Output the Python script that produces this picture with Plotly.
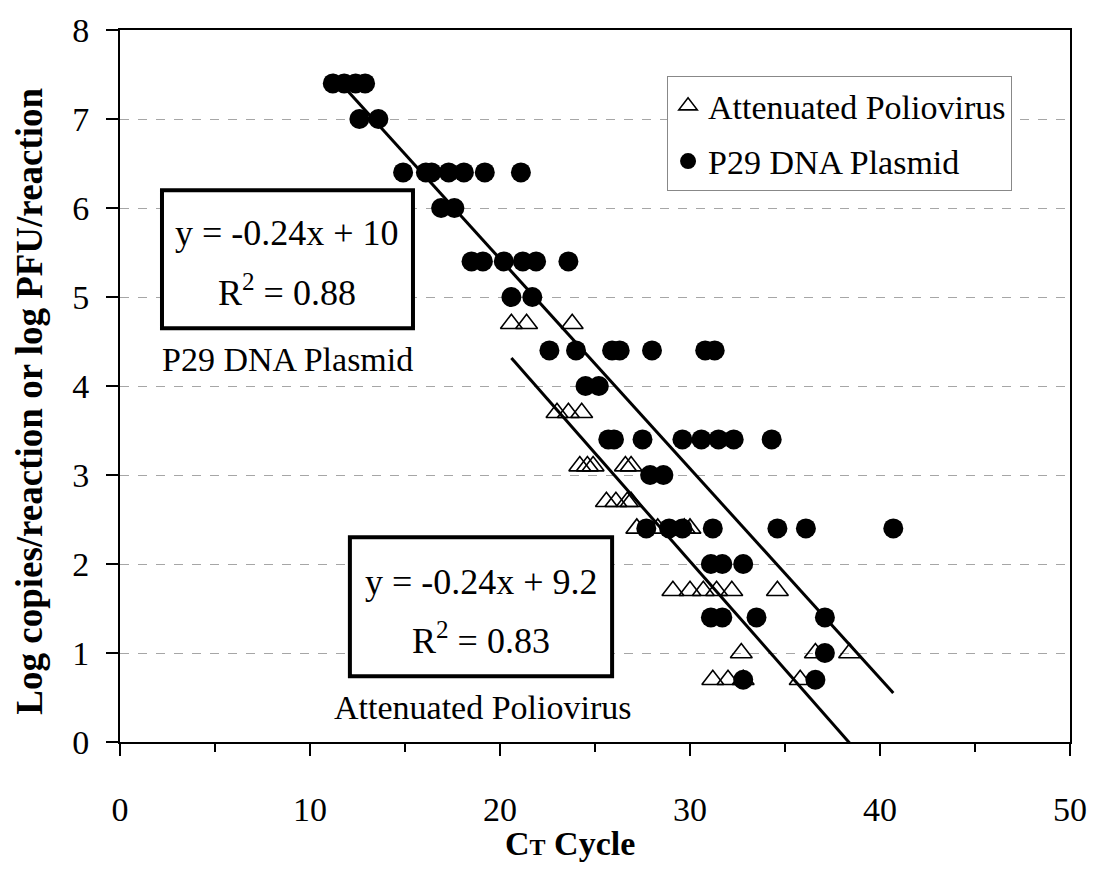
import plotly.graph_objects as go

# ---------------- data ----------------
# Attenuated Poliovirus: Ct cycle vs log PFU/reaction
polio_ct = [20.6, 21.4, 23.8,
            23.0, 23.6, 24.3,
            24.2, 24.6, 24.9, 26.6, 26.9,
            25.6, 26.1, 26.7, 26.9,
            27.2, 28.3, 29.7, 30.0,
            29.1, 30.0, 30.7, 31.4, 32.2, 34.6,
            32.7, 36.6, 38.4,
            31.2, 32.0, 32.8, 35.8]
polio_log = [4.7, 4.7, 4.7,
             3.7, 3.7, 3.7,
             3.1, 3.1, 3.1, 3.1, 3.1,
             2.7, 2.7, 2.7, 2.7,
             2.4, 2.4, 2.4, 2.4,
             1.7, 1.7, 1.7, 1.7, 1.7, 1.7,
             1.0, 1.0, 1.0,
             0.7, 0.7, 0.7, 0.7]

# P29 DNA Plasmid: Ct cycle vs log copies/reaction
plasmid_ct = [11.2, 11.8, 12.4, 12.9,
              12.6, 13.6,
              14.9, 16.1, 16.4, 17.3, 18.1, 19.2, 21.1,
              16.9, 17.6,
              18.5, 19.1, 20.2, 21.2, 21.9, 23.6,
              20.6, 21.7,
              22.6, 24.0, 25.9, 26.3, 28.0, 30.8, 31.3,
              24.5, 25.2,
              25.7, 26.0, 27.5, 29.6, 30.6, 31.5, 32.3, 34.3,
              27.9, 28.6,
              27.7, 28.9, 29.6, 31.2, 34.6, 36.1, 40.7,
              31.1, 31.7, 32.8,
              31.1, 31.7, 33.5, 37.1,
              37.1,
              32.8, 36.6]
plasmid_log = [7.4, 7.4, 7.4, 7.4,
               7.0, 7.0,
               6.4, 6.4, 6.4, 6.4, 6.4, 6.4, 6.4,
               6.0, 6.0,
               5.4, 5.4, 5.4, 5.4, 5.4, 5.4,
               5.0, 5.0,
               4.4, 4.4, 4.4, 4.4, 4.4, 4.4, 4.4,
               4.0, 4.0,
               3.4, 3.4, 3.4, 3.4, 3.4, 3.4, 3.4, 3.4,
               3.0, 3.0,
               2.4, 2.4, 2.4, 2.4, 2.4, 2.4, 2.4,
               2.0, 2.0, 2.0,
               1.4, 1.4, 1.4, 1.4,
               1.0,
               0.7, 0.7]

# linear trendlines (as drawn)
plasmid_slope, plasmid_intercept = -0.2356, 10.14
polio_slope, polio_intercept = -0.243, 9.32

plasmid_eq = ["y = -0.24x + 10", "R<sup>2</sup> = 0.88"]
polio_eq = ["y = -0.24x + 9.2", "R<sup>2</sup> = 0.83"]

x_ticks = [0, 10, 20, 30, 40, 50]
y_ticks = [0, 1, 2, 3, 4, 5, 6, 7, 8]

FONT = "Liberation Serif"
FS = 34

fig = go.Figure()

fig.add_trace(go.Scatter(
    x=polio_ct, y=polio_log, mode="markers", name="Attenuated Poliovirus",
    legendgroup="a",
    marker=dict(symbol="triangle-up-open", size=19, color="black",
                line=dict(width=1.6, color="black")),
))
fig.add_trace(go.Scatter(
    x=plasmid_ct, y=plasmid_log, mode="markers", name="P29 DNA Plasmid",
    legendgroup="b",
    marker=dict(symbol="circle", size=20, color="black"),
))

# trendlines
px0, px1 = min(plasmid_ct), max(plasmid_ct)
fig.add_trace(go.Scatter(
    x=[px0, px1], y=[plasmid_slope * px0 + plasmid_intercept, plasmid_slope * px1 + plasmid_intercept],
    mode="lines", line=dict(color="black", width=3), showlegend=False, hoverinfo="skip"))
qx0, qx1 = min(polio_ct), max(polio_ct)
fig.add_trace(go.Scatter(
    x=[qx0, qx1], y=[polio_slope * qx0 + polio_intercept, polio_slope * qx1 + polio_intercept],
    mode="lines", line=dict(color="black", width=3), showlegend=False, hoverinfo="skip"))

# equation boxes
fig.add_shape(type="rect", x0=2.21, x1=15.42, y0=4.65, y1=6.20,
              line=dict(color="black", width=4), fillcolor="white", layer="above")
fig.add_shape(type="rect", x0=12.1, x1=25.9, y0=0.74, y1=2.30,
              line=dict(color="black", width=4), fillcolor="white", layer="above")

ann = []
def txt(x, y, s, size=FS):
    ann.append(dict(x=x, y=y, xref="x", yref="y", text=s, showarrow=False,
                    font=dict(family=FONT, size=size, color="black"),
                    xanchor="center", yanchor="middle"))

txt(8.8, 5.72, plasmid_eq[0], 36)
txt(8.8, 5.07, plasmid_eq[1], 36)
txt(8.8, 4.30, "P29 DNA Plasmid")
txt(19.0, 1.80, polio_eq[0], 36)
txt(19.0, 1.16, polio_eq[1], 36)
txt(19.1, 0.39, "Attenuated Poliovirus")

# axis titles
ann.append(dict(x=0.474, y=-0.143, xref="paper", yref="paper",
                text="<b>C<span style='font-size:24px'>T</span> Cycle</b>",
                showarrow=False, font=dict(family=FONT, size=34, color="black"),
                xanchor="center", yanchor="middle"))
ann.append(dict(x=-0.0947, y=0.478, xref="paper", yref="paper",
                text="<b>Log copies/reaction or log PFU/reaction</b>", textangle=-90,
                showarrow=False, font=dict(family=FONT, size=37, color="black"),
                xanchor="center", yanchor="middle"))

fig.update_layout(
    width=1099, height=892,
    margin=dict(l=120, r=29, t=21, b=150),
    paper_bgcolor="white", plot_bgcolor="white",
    font=dict(family=FONT, size=FS, color="black"),
    annotations=ann,
    showlegend=True,
    legend=dict(x=0.939, y=0.935, xanchor="right", yanchor="top",
                bgcolor="white", bordercolor="#888888", borderwidth=1,
                font=dict(family=FONT, size=FS, color="black"),
                tracegroupgap=8, itemwidth=30),
)
fig.update_xaxes(
    range=[0, 50], tickvals=x_ticks, ticktext=[str(v) for v in x_ticks],
    showgrid=False, zeroline=False,
    showline=True, linecolor="black", linewidth=2, mirror=True,
    ticks="outside", ticklen=12, tickwidth=1.5, tickcolor="black",
    minor=dict(ticks="outside", ticklen=8, dtick=5, tickcolor="black", tickwidth=1.5, showgrid=False),
    tickfont=dict(family=FONT, size=FS), ticklabelstandoff=24,
)
fig.update_yaxes(
    range=[0, 8], tickvals=y_ticks, ticktext=[str(v) for v in y_ticks],
    showgrid=True, gridcolor="#a6a6a6", griddash="dash", gridwidth=1,
    zeroline=False,
    showline=True, linecolor="black", linewidth=2, mirror=True,
    ticks="outside", ticklen=12, tickwidth=1.5, tickcolor="black",
    tickfont=dict(family=FONT, size=FS), ticklabelstandoff=10,
)

fig.write_html("out.html")
